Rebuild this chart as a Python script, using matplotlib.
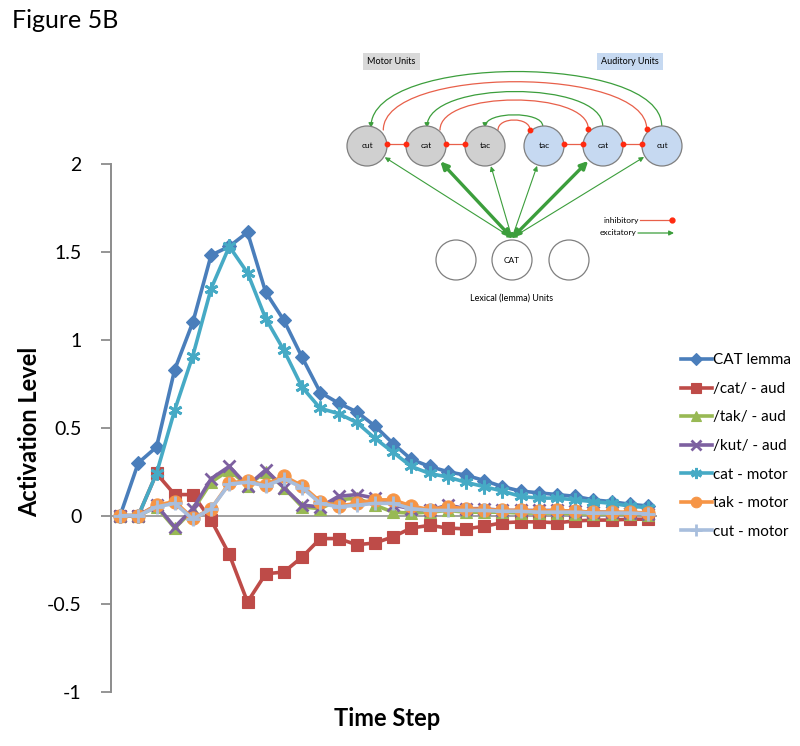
import numpy as np
import matplotlib
matplotlib.use('Agg')
from matplotlib import pyplot as plt
from matplotlib.patches import Circle, FancyArrowPatch
from matplotlib.path import Path

plt.rcParams['font.family'] = ['Lato', 'DejaVu Sans']

# activation levels per time step
time_steps = list(range(30))
cat_lemma = [0, 0.30, 0.39, 0.83, 1.10, 1.48, 1.53, 1.61, 1.27, 1.11, 0.90, 0.70, 0.64, 0.59, 0.51,
             0.41, 0.32, 0.28, 0.25, 0.23, 0.20, 0.165, 0.14, 0.13, 0.12, 0.11, 0.09, 0.08, 0.065, 0.055]
cat_aud = [0, 0, 0.24, 0.12, 0.12, -0.025, -0.22, -0.49, -0.33, -0.32, -0.235, -0.13, -0.13, -0.165, -0.155,
           -0.12, -0.07, -0.055, -0.07, -0.075, -0.06, -0.04, -0.035, -0.035, -0.04, -0.03, -0.025, -0.025, -0.02, -0.02]
tak_aud = [0, 0, 0.05, -0.07, 0.03, 0.19, 0.26, 0.17, 0.25, 0.16, 0.05, 0.04, 0.09, 0.10, 0.06,
           0.02, 0.015, 0.02, 0.03, 0.02, 0.02, 0.02, 0.015, 0.015, 0.015, 0.01, 0.01, 0.01, 0.01, 0.005]
kut_aud = [0, 0, 0.06, -0.065, 0.04, 0.21, 0.28, 0.17, 0.26, 0.16, 0.06, 0.05, 0.11, 0.12, 0.10,
           0.06, 0.04, 0.03, 0.06, 0.04, 0.04, 0.03, 0.03, 0.03, 0.03, 0.025, 0.02, 0.02, 0.015, 0.01]
cat_motor = [0, 0, 0.24, 0.60, 0.91, 1.29, 1.53, 1.38, 1.12, 0.94, 0.73, 0.61, 0.58, 0.53, 0.44,
             0.36, 0.28, 0.24, 0.22, 0.19, 0.165, 0.14, 0.11, 0.10, 0.10, 0.09, 0.08, 0.07, 0.055, 0.045]
tak_motor = [0, 0, 0.06, 0.08, -0.015, 0.04, 0.185, 0.20, 0.175, 0.225, 0.17, 0.08, 0.055, 0.07, 0.09,
             0.09, 0.055, 0.035, 0.05, 0.04, 0.035, 0.03, 0.03, 0.025, 0.03, 0.025, 0.02, 0.02, 0.02, 0.015]
cut_motor = [0, 0, 0.05, 0.07, -0.02, 0.04, 0.18, 0.19, 0.17, 0.21, 0.16, 0.07, 0.05, 0.06, 0.07,
             0.07, 0.04, 0.03, 0.03, 0.03, 0.03, 0.025, 0.025, 0.02, 0.02, 0.02, 0.015, 0.015, 0.015, 0.01]

series_names = ['CAT lemma', '/cat/ - aud', '/tak/ - aud', '/kut/ - aud', 'cat - motor', 'tak - motor', 'cut - motor']
series_values = [cat_lemma, cat_aud, tak_aud, kut_aud, cat_motor, tak_motor, cut_motor]
series_colors = ['#4A7EBB', '#BE4B48', '#98B954', '#7D60A0', '#46AAC5', '#F69546', '#A8BEDD']
series_markers = ['D', 's', '^', 'x', (6, 2, 0), 'o', '+']
marker_sizes = [7.5, 9, 8.5, 8.5, 10, 9.5, 10]

yticks = [-1, -0.5, 0, 0.5, 1, 1.5, 2]
ytick_labels = ['-1', '-0.5', '0', '0.5', '1', '1.5', '2']

fig = plt.figure(figsize=(8, 7.46), dpi=100)
ax = fig.add_axes([111/800, 1 - 691.7/746, 546/800, 528/746])

for name, vals, col, mk, ms in zip(series_names, series_values, series_colors, series_markers, marker_sizes):
    ax.plot(time_steps, vals, color=col, lw=2.6, marker=mk, markersize=ms,
            markeredgewidth=2 if mk in ('x', '+') or isinstance(mk, tuple) else 0.8,
            markeredgecolor=col, label=name)

ax.axhline(0, color='#9a9a9a', lw=1.3, zorder=0)
ax.set_xlim(-0.5, 29.5)
ax.set_ylim(-1, 2)
ax.set_yticks(yticks)
ax.set_yticklabels(ytick_labels, fontsize=14)
ax.set_xticks([])
for s in ['top', 'right', 'bottom']:
    ax.spines[s].set_visible(False)
ax.spines['left'].set_color('#8c8c8c')
ax.spines['left'].set_linewidth(1.4)
ax.tick_params(axis='y', direction='out', length=7, width=1.3, color='#8c8c8c', pad=14)

fig.text(30/800, 1 - 432/746, 'Activation Level', rotation=90, ha='center', va='center',
         fontsize=17, fontweight='bold')
fig.text(387/800, 1 - 718/746, 'Time Step', ha='center', va='center', fontsize=17, fontweight='bold')
fig.text(12/800, 1 - 21/746, 'Figure 5B', ha='left', va='center', fontsize=18)

ax.legend(loc='center left', bbox_to_anchor=(681/800, 1 - 446/746), bbox_transform=fig.transFigure,
          frameon=False, fontsize=11, handlelength=2.0, handletextpad=0.1, labelspacing=0.95,
          borderpad=0, borderaxespad=0, markerscale=0.8)

# ---- network diagram (drawn in pixel coordinates) ----
dax = fig.add_axes([340/800, 1 - 310/746, 350/800, 270/746])
dax.set_xlim(340, 690)
dax.set_ylim(310, 40)
dax.axis('off')

green = '#3C9E3C'
red = '#E8604A'
dot = '#FF2A10'

motor_units = ['cut', 'cat', 'tac']
aud_units = ['tac', 'cat', 'cut']
lexical_units = ['', 'CAT', '']

r = 20
top_y = 146
top_x = [367 + 59 * k for k in range(6)]
for k, lab in enumerate(motor_units + aud_units):
    fc = '#D0D0D0' if k < 3 else '#C6D9F1'
    dax.add_patch(Circle((top_x[k], top_y), r, fc=fc, ec='#7f7f7f', lw=0.9, zorder=3))
    dax.text(top_x[k], top_y, lab, ha='center', va='center', fontsize=6, zorder=4)

low_x = [456, 512, 569]
low_y = 260
for k, lab in enumerate(lexical_units):
    dax.add_patch(Circle((low_x[k], low_y), r, fc='white', ec='#7f7f7f', lw=0.9, zorder=3))
    dax.text(low_x[k], low_y, lab, ha='center', va='center', fontsize=6, zorder=4)

dax.text(391.5, 61.5, 'Motor Units', ha='center', va='center', fontsize=6.5,
         bbox=dict(boxstyle='square,pad=0.45', fc='#D9D9D9', ec='none'))
dax.text(630, 61.5, 'Auditory Units', ha='center', va='center', fontsize=6.5,
         bbox=dict(boxstyle='square,pad=0.45', fc='#C6D9F1', ec='none'))
dax.text(512, 298, 'Lexical (lemma) Units', ha='center', va='center', fontsize=6.5)


def arch(p0, p1, peak):
    yc = (peak - 0.125 * (p0[1] + p1[1])) / 0.75
    return Path([p0, (p0[0], yc), (p1[0], yc), p1],
                [Path.MOVETO, Path.CURVE4, Path.CURVE4, Path.CURVE4])


# green arcs: auditory -> motor (arrow at motor end)
green_arcs = [((661.7, 126), (371, 128), 71.7), ((602.7, 126), (427, 128), 91.7), ((542.7, 126), (485, 128), 115)]
for p0, p1, pk in green_arcs:
    dax.add_patch(FancyArrowPatch(path=arch(p0, p1, pk), arrowstyle='-|>', mutation_scale=7,
                                  color=green, lw=0.9, zorder=2))
# red arcs: motor -> auditory (dot at auditory end)
red_arcs = [((383.3, 130), (646.7, 129), 81.7), ((440, 130), (588.3, 129), 100), ((498, 130), (530, 130), 120)]
for p0, p1, pk in red_arcs:
    dax.add_patch(FancyArrowPatch(path=arch(p0, p1, pk), arrowstyle='-', color=red, lw=0.9, zorder=2))
    dax.plot(p1[0], p1[1], 'o', color=dot, ms=3.2, zorder=5)

# horizontal inhibitory links
for a, b in [(0, 1), (1, 2), (3, 4), (4, 5)]:
    xa, xb = top_x[a] + r, top_x[b] - r
    dax.plot([xa, xb], [top_y - 2, top_y - 2], color=red, lw=0.9, zorder=2)
    dax.plot([xa, xb], [top_y - 2, top_y - 2], 'o', color=dot, ms=3.2, zorder=5)

# excitatory links between lexical CAT and top units
cat_top = (512, 238)
for k in range(6):
    ang = np.arctan2(cat_top[1] - top_y, cat_top[0] - top_x[k])
    end = (top_x[k] + (r + 1) * np.cos(ang), top_y + (r + 1) * np.sin(ang))
    thick = k in (1, 4)
    dax.add_patch(FancyArrowPatch(cat_top, end, arrowstyle='<|-|>', mutation_scale=11 if thick else 7,
                                  color=green, lw=2.4 if thick else 0.8, shrinkA=0, shrinkB=0, zorder=2))

# diagram legend
dax.text(639, 220, 'inhibitory', ha='right', va='center', fontsize=6)
dax.plot([640, 671], [220, 220], color=red, lw=0.9)
dax.plot(672, 220, 'o', color=dot, ms=3.5)
dax.text(637, 233, 'excitatory', ha='right', va='center', fontsize=6)
dax.add_patch(FancyArrowPatch((638, 233), (674, 233), arrowstyle='-|>', mutation_scale=7,
                              color=green, lw=0.9, shrinkA=0, shrinkB=0))

fig.savefig('out.png', dpi=100)
